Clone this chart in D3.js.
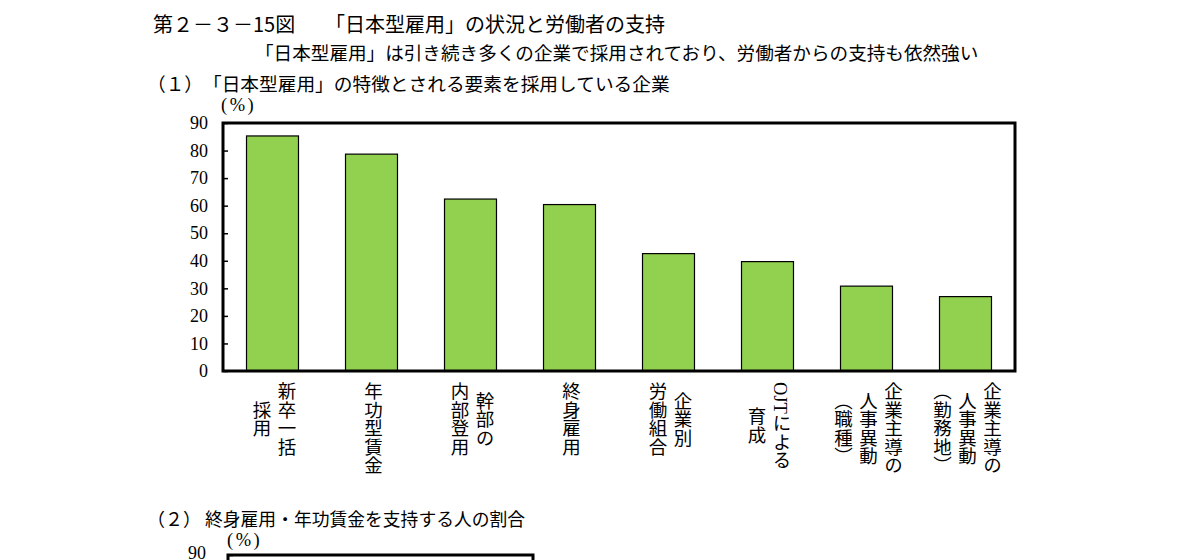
<!DOCTYPE html>
<html>
<head>
<meta charset="utf-8">
<script src="https://cdn.jsdelivr.net/npm/d3@7/dist/d3.min.js"></script>
<style>
  html, body { margin: 0; padding: 0; background: #fff; }
  svg { display: block; }
  .sans { font-family: "Noto Sans CJK JP", "Noto Sans", sans-serif; }
  .serif { font-family: "Liberation Serif", "DejaVu Serif", "Noto Sans CJK JP", serif; }
</style>
</head>
<body>
<svg id="chart" width="1189" height="560"></svg>
<script>
// ---- data ----
const categoryLabels = [
  ["新卒一括", "採用"],
  ["年功型賃金"],
  ["幹部の", "内部登用"],
  ["終身雇用"],
  ["企業別", "労働組合"],
  ["OJTによる", "育成"],
  ["企業主導の", "人事異動", "（職種）"],
  ["企業主導の", "人事異動", "（勤務地）"]
];
const values = [85.3, 78.7, 62.4, 60.4, 42.6, 39.7, 30.8, 27.0];
const yTicks = [0, 10, 20, 30, 40, 50, 60, 70, 80, 90];
const yTicks2 = [90];

const titleNo = "第２－３－15図";
const titleMain = "「日本型雇用」の状況と労働者の支持";
const subtitle = "「日本型雇用」は引き続き多くの企業で採用されており、労働者からの支持も依然強い";
const section1No = "（１）";
const section1 = "「日本型雇用」の特徴とされる要素を採用している企業";
const section2No = "（２）";
const section2 = "終身雇用・年功賃金を支持する人の割合";
const unitLabel = "(%)";

// ---- drawing ----
const svg = d3.select("#chart");

svg.append("text").attr("class", "sans").attr("x", 153).attr("y", 31.5)
  .attr("font-size", 20).text(titleNo);
svg.append("text").attr("class", "sans").attr("x", 325).attr("y", 31.5)
  .attr("font-size", 20).text(titleMain);
svg.append("text").attr("class", "sans").attr("x", 255).attr("y", 59.5)
  .attr("font-size", 18.6).text(subtitle);
svg.append("text").attr("class", "sans").attr("x", 147).attr("y", 90.5)
  .attr("font-size", 18.7).text(section1No);
svg.append("text").attr("class", "sans").attr("x", 203).attr("y", 90.5)
  .attr("font-size", 18.7).text(section1);
svg.append("text").attr("class", "sans").attr("x", 147).attr("y", 526)
  .attr("font-size", 18).text(section2No);
svg.append("text").attr("class", "sans").attr("x", 205).attr("y", 526)
  .attr("font-size", 17.8).text(section2);

// Chart 1
const c1 = { left: 223, right: 1015, top: 123, bottom: 371 };
const x = d3.scaleBand()
  .domain(d3.range(values.length))
  .range([c1.left, c1.right])
  .paddingInner(0.475)
  .paddingOuter(0.2375);
const y = d3.scaleLinear().domain([0, 90]).range([c1.bottom, c1.top]);

svg.append("text").attr("class", "serif").attr("x", 221).attr("y", 111)
  .attr("font-size", 18.5).attr("letter-spacing", 2.5).text(unitLabel);

svg.append("g")
  .selectAll("rect")
  .data(values)
  .join("rect")
  .attr("x", (d, i) => x(i))
  .attr("width", x.bandwidth())
  .attr("y", d => y(d))
  .attr("height", d => y(0) - y(d))
  .attr("fill", "#92d050")
  .attr("stroke", "#000")
  .attr("stroke-width", 1.2);

const yAxis = svg.append("g")
  .attr("transform", `translate(${c1.left},0)`)
  .call(d3.axisLeft(y).tickValues(yTicks).tickSizeInner(-5).tickSizeOuter(0).tickPadding(15));
yAxis.select(".domain").remove();
yAxis.selectAll(".tick line").attr("stroke", "#000").attr("stroke-width", 1.5);
yAxis.selectAll(".tick text").attr("font-size", 18)
  .attr("fill", "#000").attr("font-family", "Liberation Serif, DejaVu Serif, serif");

svg.append("rect")
  .attr("x", c1.left).attr("y", c1.top)
  .attr("width", c1.right - c1.left).attr("height", c1.bottom - c1.top)
  .attr("fill", "none").attr("stroke", "#000").attr("stroke-width", 3);

// vertical category labels
const colGap = 25;
const labelTop = 382;
const lg = svg.append("g");
categoryLabels.forEach((cols, i) => {
  const cx = x(i) + x.bandwidth() / 2;
  const n = cols.length;
  const texts = cols.map((c, j) => lg.append("text")
    .attr("class", "serif")
    .attr("font-size", 18.5)
    .style("writing-mode", "vertical-rl")
    .attr("text-anchor", "middle")
    .attr("x", cx + ((n - 1) / 2 - j) * colGap)
    .text(c));
  const maxLen = d3.max(texts, t => t.node().getComputedTextLength());
  texts.forEach(t => t.attr("y", labelTop + maxLen / 2));
});

// Chart 2 (only its top edge is visible)
const c2 = { left: 228, right: 533, top: 555, bottom: 803 };
const y2 = d3.scaleLinear().domain([0, 90]).range([c2.bottom, c2.top]);
svg.append("text").attr("class", "serif").attr("x", 227).attr("y", 546)
  .attr("font-size", 18.5).attr("letter-spacing", 2.5).text(unitLabel);
const yAxis2 = svg.append("g")
  .attr("transform", `translate(${c2.left},0)`)
  .call(d3.axisLeft(y2).tickValues(yTicks2).tickSizeInner(-5).tickSizeOuter(0).tickPadding(22));
yAxis2.select(".domain").remove();
yAxis2.selectAll(".tick line").attr("stroke", "#000").attr("stroke-width", 1.5);
yAxis2.selectAll(".tick text").attr("font-size", 18).attr("dy", "0.18em")
  .attr("fill", "#000").attr("font-family", "Liberation Serif, DejaVu Serif, serif");
svg.append("rect")
  .attr("x", c2.left).attr("y", c2.top)
  .attr("width", c2.right - c2.left).attr("height", c2.bottom - c2.top)
  .attr("fill", "none").attr("stroke", "#000").attr("stroke-width", 3);
</script>
</body>
</html>
